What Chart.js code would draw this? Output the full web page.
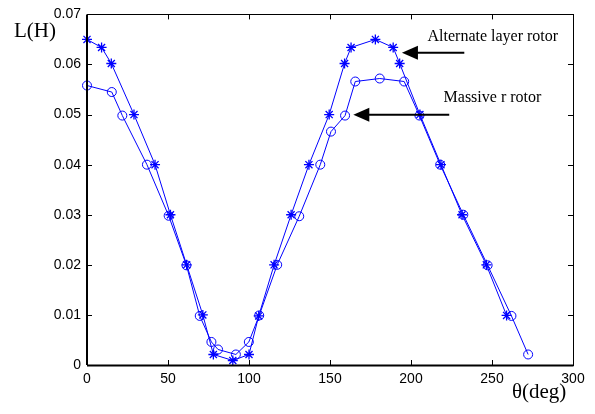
<!DOCTYPE html>
<html>
<head>
<meta charset="utf-8">
<script src="https://cdn.jsdelivr.net/npm/chart.js@4/dist/chart.umd.min.js"></script>
<style>
html,body{margin:0;padding:0;background:#fff;}
#c{display:block;}
</style>
</head>
<body>
<canvas id="c" width="595" height="414"></canvas>
<script>
// ---- data ----
const thetaAlternate = [0, 9, 15, 29, 42, 51.5, 61.5, 71.5, 78, 90, 100, 106, 115.5, 126, 137, 149.5, 159, 163, 178, 189, 193, 205.5, 218.5, 231.5, 246.5, 259];
const lAlternate = [0.065, 0.0634, 0.0602, 0.05, 0.04, 0.03, 0.02, 0.01, 0.0021, 0.0009, 0.0021, 0.0098, 0.02, 0.03, 0.04, 0.05, 0.0602, 0.0634, 0.065, 0.0634, 0.0602, 0.05, 0.04, 0.03, 0.02, 0.0099];

const thetaMassive = [0, 15.3, 21.8, 37, 50.4, 61.4, 69.6, 76.8, 80.9, 91.9, 99.9, 106.3, 117.4, 131, 144, 150.6, 159.3, 165.6, 180.7, 195.8, 205.2, 218, 232.3, 247.3, 262, 272.3];
const lMassive = [0.0558, 0.0545, 0.0498, 0.04, 0.0298, 0.0199, 0.0098, 0.0046, 0.0031, 0.0021, 0.0046, 0.0099, 0.02, 0.0297, 0.04, 0.0466, 0.0498, 0.0566, 0.0572, 0.0566, 0.0498, 0.04, 0.03, 0.0199, 0.0098, 0.0021];

const xTicks = [0, 50, 100, 150, 200, 250, 300];
const yTicks = [0, 0.01, 0.02, 0.03, 0.04, 0.05, 0.06, 0.07];

const seriesNames = ['Alternate layer rotor', 'Massive r rotor'];
const xLabel = 'θ(deg)';
const yLabel = 'L(H)';

// annotation placement (data units)
const annotations = [
  {text: seriesNames[0], tx: 210.2, ty: 0.0647, ax1: 232.9, ax2: 194.4, ay: 0.06235},
  {text: seriesNames[1], tx: 220.1, ty: 0.0525, ax1: 223.6, ax2: 164.4, ay: 0.04998}
];

const BLUE = '#0000ff';
const toPts = (xs, ys) => xs.map((x, i) => ({x: x, y: ys[i]}));

const framePlugin = {
  id: 'frame',
  afterDatasetsDraw(chart) {
    const ctx = chart.ctx, a = chart.chartArea;
    const xs = chart.scales.x, ys = chart.scales.y;
    ctx.save();
    ctx.strokeStyle = '#000';
    ctx.lineWidth = 1;
    ctx.strokeRect(Math.round(a.left) + 0.5, Math.round(a.top) + 0.5, Math.round(a.right - a.left), Math.round(a.bottom - a.top));
    ctx.lineWidth = 2;
    ctx.beginPath();
    ctx.moveTo(a.left, Math.round(a.bottom) + 0.5); ctx.lineTo(a.right + 0.5, Math.round(a.bottom) + 0.5);
    ctx.moveTo(Math.round(a.left), a.top); ctx.lineTo(Math.round(a.left), a.bottom);
    ctx.stroke();
    ctx.lineWidth = 1;
    ctx.beginPath();
    const L = 5;
    xTicks.forEach(v => {
      const px = Math.round(xs.getPixelForValue(v)) + 0.5;
      ctx.moveTo(px, a.bottom); ctx.lineTo(px, a.bottom - L);
      ctx.moveTo(px, a.top); ctx.lineTo(px, a.top + L);
    });
    yTicks.forEach(v => {
      const py = Math.round(ys.getPixelForValue(v)) + 0.5;
      ctx.moveTo(a.left, py); ctx.lineTo(a.left + L, py);
      ctx.moveTo(a.right, py); ctx.lineTo(a.right - L, py);
    });
    ctx.stroke();

    // axis labels
    ctx.fillStyle = '#000';
    ctx.font = '21px "Liberation Serif", "Times New Roman", serif';
    ctx.textBaseline = 'alphabetic';
    ctx.textAlign = 'left';
    ctx.fillText(yLabel, 14, 37);
    ctx.fillText(xLabel, 512, 398);

    // annotations
    ctx.font = '16px "Liberation Serif", "Times New Roman", serif';
    annotations.forEach(an => {
      const tx = xs.getPixelForValue(an.tx), ty = ys.getPixelForValue(an.ty);
      ctx.fillText(an.text, tx, ty);
      const x1 = xs.getPixelForValue(an.ax1), x2 = xs.getPixelForValue(an.ax2), y = ys.getPixelForValue(an.ay);
      ctx.lineWidth = 2;
      ctx.beginPath();
      ctx.moveTo(x1, y); ctx.lineTo(x2 + 14, y);
      ctx.stroke();
      ctx.beginPath();
      ctx.moveTo(x2, y); ctx.lineTo(x2 + 16, y - 7); ctx.lineTo(x2 + 16, y + 7); ctx.closePath();
      ctx.fill();
    });
    ctx.restore();
  }
};

new Chart(document.getElementById('c'), {
  type: 'scatter',
  data: {
    datasets: [
      {
        label: seriesNames[0],
        data: toPts(thetaAlternate, lAlternate),
        showLine: true,
        borderColor: BLUE,
        backgroundColor: BLUE,
        borderWidth: 1,
        pointStyle: 'star',
        pointRadius: 5,
        pointBorderWidth: 1.3,
        pointBorderColor: BLUE,
        clip: false
      },
      {
        label: seriesNames[1],
        data: toPts(thetaMassive, lMassive),
        showLine: true,
        borderColor: BLUE,
        backgroundColor: 'rgba(0,0,0,0)',
        borderWidth: 1,
        pointStyle: 'circle',
        pointRadius: 4.5,
        pointBorderWidth: 1,
        pointBorderColor: BLUE,
        pointBackgroundColor: 'rgba(0,0,0,0)',
        clip: false
      }
    ]
  },
  options: {
    responsive: false,
    animation: false,
    devicePixelRatio: 1,
    layout: {padding: {left: 0, top: 14, right: 22, bottom: 0}},
    plugins: {legend: {display: false}, tooltip: {enabled: false}},
    scales: {
      x: {
        type: 'linear', min: 0, max: 300,
        grid: {display: false, drawTicks: false},
        border: {display: false},
        afterBuildTicks: s => { s.ticks = xTicks.map(v => ({value: v})); },
        afterFit: s => { s.height = 49; },
        ticks: {
          padding: 6, color: '#000', maxRotation: 0, autoSkip: false,
          font: {family: '"Liberation Sans", Arial, sans-serif', size: 14},
          callback: v => String(v)
        }
      },
      y: {
        type: 'linear', min: 0, max: 0.07,
        grid: {display: false, drawTicks: false},
        border: {display: false},
        afterBuildTicks: s => { s.ticks = yTicks.map(v => ({value: v})); },
        afterFit: s => { s.width = 87; },
        ticks: {
          padding: 6, color: '#000', autoSkip: false,
          font: {family: '"Liberation Sans", Arial, sans-serif', size: 14},
          callback: v => (Math.abs(v) < 1e-9 ? '0' : Number(v).toFixed(2))
        }
      }
    }
  },
  plugins: [framePlugin]
});
</script>
</body>
</html>
